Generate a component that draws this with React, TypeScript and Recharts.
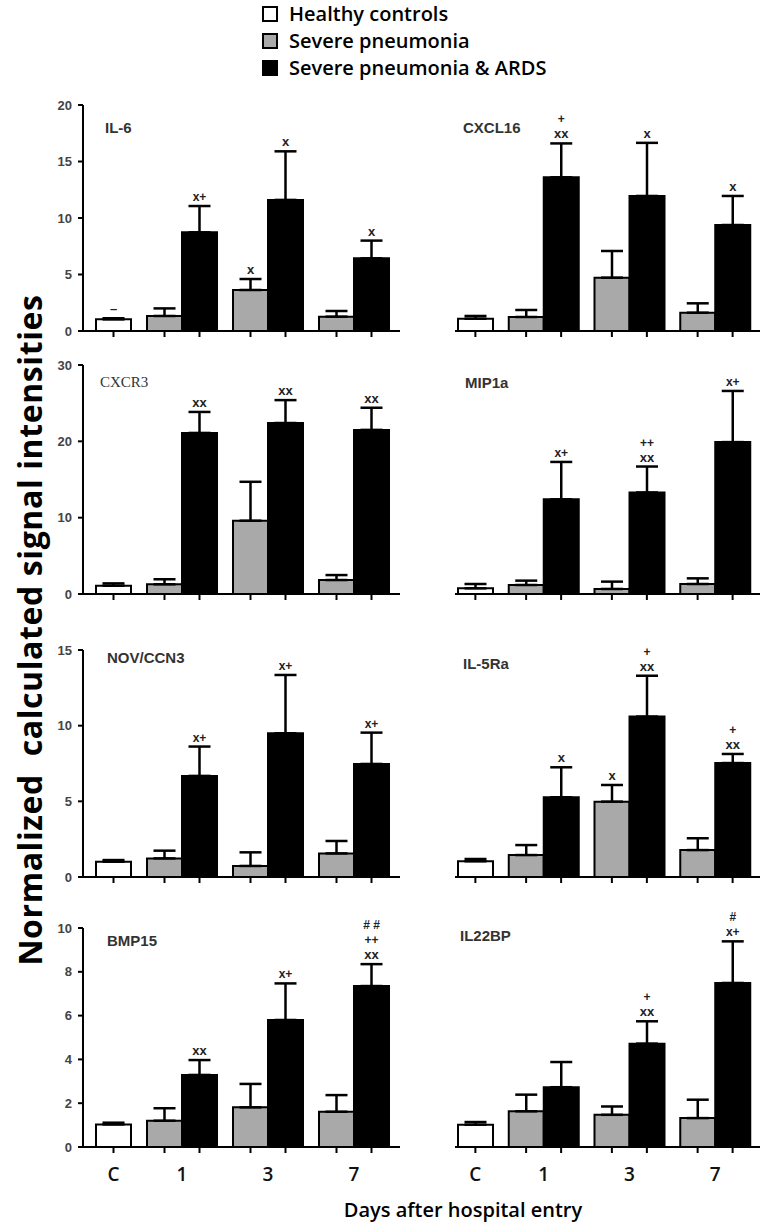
import React from 'react';
import { BarChart, Bar, XAxis, YAxis, ErrorBar, Cell, LabelList } from 'recharts';

// ---------- data ----------
const categories = ['C', '1', '3', '7'];
const seriesNames = ['Healthy controls', 'Severe pneumonia', 'Severe pneumonia & ARDS'];

// IL-6
const il6Healthy = [1.03];
const il6HealthyErr = [0.1];
const il6HealthySig = ['–'];
const il6Severe = [1.33, 3.63, 1.27];
const il6SevereErr = [0.67, 0.97, 0.5];
const il6SevereSig = ['', 'x', ''];
const il6Ards = [8.73, 11.6, 6.43];
const il6ArdsErr = [2.33, 4.3, 1.57];
const il6ArdsSig = ['x+', 'x', 'x'];

// CXCL16
const cxcl16Healthy = [1.09];
const cxcl16HealthyErr = [0.24];
const cxcl16Severe = [1.24, 4.72, 1.62];
const cxcl16SevereErr = [0.62, 2.36, 0.83];
const cxcl16Ards = [13.6, 11.95, 9.38];
const cxcl16ArdsErr = [3.0, 4.7, 2.57];
const cxcl16ArdsSig = ['+\nxx', 'x', 'x'];

// CXCR3
const cxcr3Healthy = [1.09];
const cxcr3HealthyErr = [0.3];
const cxcr3Severe = [1.27, 9.6, 1.83];
const cxcr3SevereErr = [0.66, 5.1, 0.65];
const cxcr3Ards = [21.1, 22.4, 21.5];
const cxcr3ArdsErr = [2.75, 3.0, 2.9];
const cxcr3ArdsSig = ['xx', 'xx', 'xx'];

// MIP1a
const mip1aHealthy = [0.74];
const mip1aHealthyErr = [0.57];
const mip1aSevere = [1.18, 0.66, 1.31];
const mip1aSevereErr = [0.57, 0.96, 0.74];
const mip1aArds = [12.4, 13.3, 19.9];
const mip1aArdsErr = [4.9, 3.4, 6.7];
const mip1aArdsSig = ['x+', '++\nxx', 'x+'];

// NOV/CCN3
const novHealthy = [1.01];
const novHealthyErr = [0.11];
const novSevere = [1.23, 0.73, 1.56];
const novSevereErr = [0.51, 0.9, 0.82];
const novArds = [6.68, 9.5, 7.47];
const novArdsErr = [1.94, 3.85, 2.07];
const novArdsSig = ['x+', 'x+', 'x+'];

// IL-5Ra
const il5raHealthy = [1.04];
const il5raHealthyErr = [0.15];
const il5raSevere = [1.45, 4.98, 1.78];
const il5raSevereErr = [0.66, 1.1, 0.78];
const il5raSevereSig = ['', 'x', ''];
const il5raArds = [5.27, 10.6, 7.53];
const il5raArdsErr = [1.98, 2.7, 0.6];
const il5raArdsSig = ['x', '+\nxx', '+\nxx'];

// BMP15
const bmp15Healthy = [1.03];
const bmp15HealthyErr = [0.08];
const bmp15Severe = [1.2, 1.81, 1.61];
const bmp15SevereErr = [0.57, 1.07, 0.76];
const bmp15Ards = [3.29, 5.8, 7.35];
const bmp15ArdsErr = [0.68, 1.67, 1.0];
const bmp15ArdsSig = ['xx', 'x+', '# #\n++\nxx'];

// IL22BP
const il22bpHealthy = [1.02];
const il22bpHealthyErr = [0.12];
const il22bpSevere = [1.63, 1.47, 1.32];
const il22bpSevereErr = [0.76, 0.38, 0.84];
const il22bpArds = [2.73, 4.72, 7.49];
const il22bpArdsErr = [1.15, 1.02, 1.9];
const il22bpArdsSig = ['', '+\nxx', '#\nx+'];

// axis ticks per row
const row1Ticks = [0, 5, 10, 15, 20];
const row2Ticks = [0, 10, 20, 30];
const row3Ticks = [0, 5, 10, 15];
const row4Ticks = [0, 2, 4, 6, 8, 10];

// ---------- styles ----------
const COLORS = ['#ffffff', '#a9a9a9', '#000000'];
const BAR = 35;
const ROWS = [
  { top: 105, bottom: 331, ticks: row1Ticks },
  { top: 365, bottom: 594, ticks: row2Ticks },
  { top: 650, bottom: 877, ticks: row3Ticks },
  { top: 928, bottom: 1147, ticks: row4Ticks },
];
const MT = 50;
const XH = 44;

type Row = {
  cat: string;
  L: number | null;
  Lerr: number[] | null;
  Lsig: string;
  R: number;
  Rerr: number[];
  Rsig: string;
};

function buildRows(
  h: number[], he: number[], hs: string[] | undefined,
  s: number[], se: number[], ss: string[] | undefined,
  a: number[], ae: number[], as: string[] | undefined
): Row[] {
  return categories.map((cat, i) => {
    if (i === 0) {
      return { cat, L: null, Lerr: null, Lsig: '', R: h[0], Rerr: [0, he[0]], Rsig: hs ? hs[0] : '' };
    }
    const j = i - 1;
    return {
      cat,
      L: s[j], Lerr: [0, se[j]], Lsig: ss ? ss[j] : '',
      R: a[j], Rerr: [0, ae[j]], Rsig: as ? as[j] : '',
    };
  });
}

const panels = [
  { name: 'IL-6', row: 0, col: 0, lx: 105, ly: 127, serif: false,
    rows: buildRows(il6Healthy, il6HealthyErr, il6HealthySig, il6Severe, il6SevereErr, il6SevereSig, il6Ards, il6ArdsErr, il6ArdsSig) },
  { name: 'CXCL16', row: 0, col: 1, lx: 463, ly: 127, serif: false,
    rows: buildRows(cxcl16Healthy, cxcl16HealthyErr, undefined, cxcl16Severe, cxcl16SevereErr, undefined, cxcl16Ards, cxcl16ArdsErr, cxcl16ArdsSig) },
  { name: 'CXCR3', row: 1, col: 0, lx: 100, ly: 382, serif: true,
    rows: buildRows(cxcr3Healthy, cxcr3HealthyErr, undefined, cxcr3Severe, cxcr3SevereErr, undefined, cxcr3Ards, cxcr3ArdsErr, cxcr3ArdsSig) },
  { name: 'MIP1a', row: 1, col: 1, lx: 465, ly: 382, serif: false,
    rows: buildRows(mip1aHealthy, mip1aHealthyErr, undefined, mip1aSevere, mip1aSevereErr, undefined, mip1aArds, mip1aArdsErr, mip1aArdsSig) },
  { name: 'NOV/CCN3', row: 2, col: 0, lx: 107, ly: 657, serif: false,
    rows: buildRows(novHealthy, novHealthyErr, undefined, novSevere, novSevereErr, undefined, novArds, novArdsErr, novArdsSig) },
  { name: 'IL-5Ra', row: 2, col: 1, lx: 463, ly: 663, serif: false,
    rows: buildRows(il5raHealthy, il5raHealthyErr, undefined, il5raSevere, il5raSevereErr, il5raSevereSig, il5raArds, il5raArdsErr, il5raArdsSig) },
  { name: 'BMP15', row: 3, col: 0, lx: 107, ly: 940, serif: false,
    rows: buildRows(bmp15Healthy, bmp15HealthyErr, undefined, bmp15Severe, bmp15SevereErr, undefined, bmp15Ards, bmp15ArdsErr, bmp15ArdsSig) },
  { name: 'IL22BP', row: 3, col: 1, lx: 460, ly: 935, serif: false,
    rows: buildRows(il22bpHealthy, il22bpHealthyErr, undefined, il22bpSevere, il22bpSevereErr, undefined, il22bpArds, il22bpArdsErr, il22bpArdsSig) },
];

const makeSig = (rows: Row[], side: 'L' | 'R') => (props: any) => {
  const vb = props.viewBox || props;
  const r = rows.find((row) => row.cat === props.value);
  if (!r) return null;
  const val = side === 'L' ? r.L : r.R;
  const err = side === 'L' ? r.Lerr : r.Rerr;
  const sig = side === 'L' ? r.Lsig : r.Rsig;
  if (!sig || val == null || !err) return null;
  const x = Number(vb.x);
  const y = Number(vb.y);
  const w = Number(vb.width);
  const h = Math.abs(Number(vb.height));
  const ppu = h / val;
  const capY = y - err[1] * ppu;
  const lines = sig.split('\n');
  const n = lines.length;
  return (
    <g>
      {lines.map((t, k) => (
        <text
          key={k}
          x={x + w / 2}
          y={capY - 5 - (n - 1 - k) * 15}
          textAnchor="middle"
          fontFamily="'Liberation Sans', Arial, sans-serif"
          fontWeight="bold"
          fontSize={t.includes('+') || t.includes('#') ? 12 : 13}
          fill="#222"
        >
          {t}
        </text>
      ))}
    </g>
  );
};

const XTick = (props: any) => {
  const { x, y, payload, showLabel } = props;
  const isC = payload.value === 'C';
  const marks = isC ? [x + BAR / 2] : [x - BAR / 2, x + BAR / 2];
  const lx = isC ? x + BAR / 2 : x;
  return (
    <g>
      {marks.map((m: number, i: number) => (
        <line key={i} x1={m} x2={m} y1={y} y2={y + 6} stroke="#000" strokeWidth={2} />
      ))}
      {showLabel && (
        <text x={lx} y={y + 34} textAnchor="middle" fontFamily="'Open Sans', sans-serif" fontWeight={600} fontSize={19} fill="#111">
          {payload.value}
        </text>
      )}
    </g>
  );
};

function Panel({ p }: { p: typeof panels[number] }) {
  const rowCfg = ROWS[p.row];
  const isLeft = p.col === 0;
  const plotH = rowCfg.bottom - rowCfg.top;
  const width = isLeft ? 410 : 360;
  const left = isLeft ? 0 : 410;
  const margin = isLeft ? { top: MT, right: 10, bottom: 0, left: 0 } : { top: MT, right: 10, bottom: 0, left: 45 };
  const padding = isLeft ? { left: -30, right: 3 } : { left: -40, right: 2 };
  const domainMax = rowCfg.ticks[rowCfg.ticks.length - 1];
  return (
    <div style={{ position: 'absolute', left, top: rowCfg.top - MT, width, height: MT + plotH + XH }}>
      <BarChart width={width} height={MT + plotH + XH} data={p.rows} margin={margin} barGap={0} barSize={BAR}>
        <XAxis
          dataKey="cat"
          padding={padding}
          height={XH}
          axisLine={{ stroke: '#000', strokeWidth: 2 }}
          tickLine={false}
          tickSize={0}
          tickMargin={0}
          interval={0}
          tick={<XTick showLabel={p.row === 3} />}
        />
        <YAxis
          hide={!isLeft}
          width={83}
          domain={[0, domainMax]}
          ticks={rowCfg.ticks}
          allowDataOverflow
          axisLine={{ stroke: '#000', strokeWidth: 2 }}
          tickLine={{ stroke: '#000', strokeWidth: 2 }}
          tickSize={5}
          tickMargin={6}
          tick={{ fontFamily: "'Liberation Sans', Arial, sans-serif", fontWeight: 'bold', fontSize: 13, fill: '#444' }}
        />
        <Bar dataKey="L" isAnimationActive={false} stroke="#000" strokeWidth={2}>
          {p.rows.map((r, i) => (
            <Cell key={i} fill={COLORS[1]} />
          ))}
          <ErrorBar dataKey={(d: Row) => d.Lerr as any} width={11} stroke="#000" strokeWidth={2.5} direction="y" isAnimationActive={false} />
          <LabelList dataKey="cat" content={makeSig(p.rows, 'L')} />
        </Bar>
        <Bar dataKey="R" isAnimationActive={false} stroke="#000" strokeWidth={2}>
          {p.rows.map((r, i) => (
            <Cell key={i} fill={i === 0 ? COLORS[0] : COLORS[2]} />
          ))}
          <ErrorBar dataKey={(d: Row) => d.Rerr as any} width={11} stroke="#000" strokeWidth={2.5} direction="y" isAnimationActive={false} />
          <LabelList dataKey="cat" content={makeSig(p.rows, 'R')} />
        </Bar>
      </BarChart>
      <div
        style={{
          position: 'absolute',
          left: p.lx - left,
          top: p.ly - (rowCfg.top - MT),
          transform: 'translateY(-50%)',
          fontFamily: p.serif ? "'Liberation Serif', 'Times New Roman', serif" : "'Liberation Sans', Arial, sans-serif",
          fontWeight: p.serif ? 'normal' : 'bold',
          fontSize: 15,
          color: '#333',
          lineHeight: 1,
          whiteSpace: 'nowrap',
        }}
      >
        {p.name}
      </div>
    </div>
  );
}

const legendRows = [
  { y: 14, color: COLORS[0] },
  { y: 41, color: COLORS[1] },
  { y: 68, color: COLORS[2] },
];

export default function App() {
  return (
    <div style={{ position: 'absolute', left: 0, top: 0, width: 770, height: 1222, background: '#fff', overflow: 'hidden' }}>
      {legendRows.map((l, i) => (
        <div key={i} style={{ position: 'absolute', left: 262, top: l.y - 8, height: 16, display: 'flex', alignItems: 'center' }}>
          <div style={{ width: 12, height: 12, border: '2.5px solid #000', background: l.color }} />
          <div
            style={{
              position: 'absolute',
              left: 27,
              top: 8,
              transform: 'translateY(-50%)',
              fontFamily: "'Open Sans', sans-serif",
              fontWeight: 600,
              fontSize: 20,
              whiteSpace: 'nowrap',
              color: '#000',
              lineHeight: 1.1,
            }}
          >
            {seriesNames[i]}
          </div>
        </div>
      ))}
      {panels.map((p) => (
        <Panel key={p.name} p={p} />
      ))}
      <svg style={{ position: 'absolute', left: 0, top: 0 }} width={70} height={1222}>
        <text
          x={29}
          y={630}
          transform="rotate(-90 29 630)"
          textAnchor="middle"
          dominantBaseline="central"
          fontFamily="'Open Sans', sans-serif"
          fontWeight="bold"
          fontSize={32}
          letterSpacing={0.6}
          fill="#000"
        >
          {'Normalized\u00a0\u00a0calculated signal intensities'}
        </text>
      </svg>
      <div
        style={{
          position: 'absolute',
          left: 463,
          top: 1210,
          transform: 'translate(-50%, -50%)',
          fontFamily: "'Open Sans', sans-serif",
          fontWeight: 600,
          fontSize: 20,
          whiteSpace: 'nowrap',
          lineHeight: 1.2,
        }}
      >
        Days after hospital entry
      </div>
    </div>
  );
}
